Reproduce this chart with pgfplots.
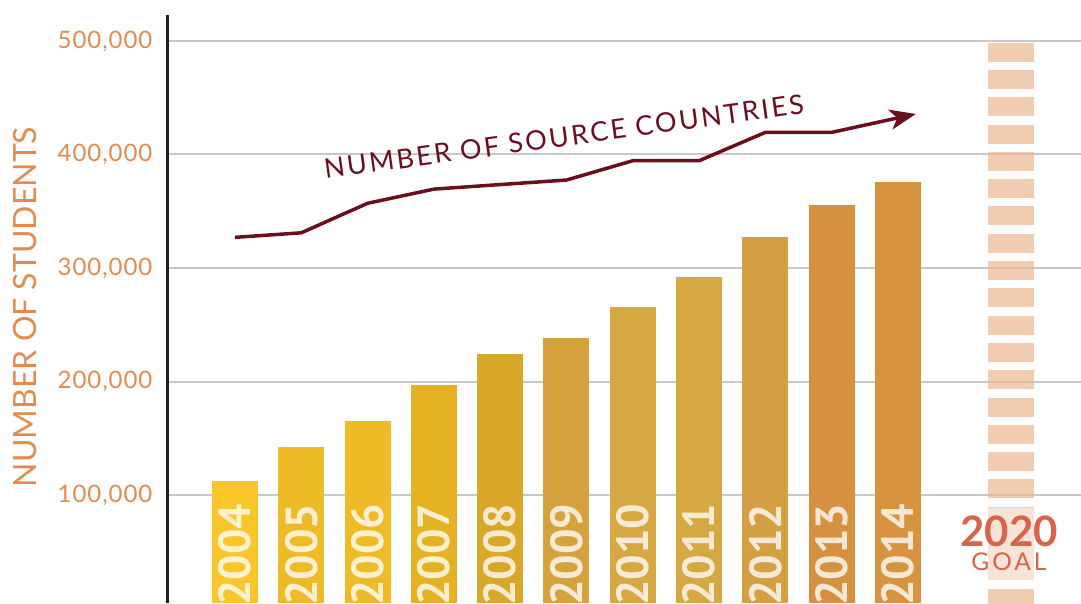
\documentclass[border=0pt]{standalone}
\usepackage{pgfplots}
\pgfplotsset{compat=1.18}
\usepackage{fontspec}
\setmainfont{Lato}
\newfontfamily\latofont{Lato}
\newfontfamily\tickfont{Lato}[LetterSpace=4]
\newfontfamily\linefont{Lato}[LetterSpace=9]
\newfontfamily\goalfont{Lato}[LetterSpace=12]
\newfontfamily\yearfont{PT Sans}
\usetikzlibrary{arrows.meta}
\definecolor{c04}{HTML}{F9C72B}
\definecolor{c05}{HTML}{EDBA28}
\definecolor{c06}{HTML}{EEBB27}
\definecolor{c07}{HTML}{E4B223}
\definecolor{c08}{HTML}{DAA828}
\definecolor{c09}{HTML}{D6A23E}
\definecolor{c10}{HTML}{D7A841}
\definecolor{c11}{HTML}{D6A841}
\definecolor{c12}{HTML}{D5A043}
\definecolor{c13}{HTML}{D69140}
\definecolor{c14}{HTML}{D79340}
\definecolor{goalc}{HTML}{ECB890}
\definecolor{goallight}{HTML}{F8E4D6}
\definecolor{orangec}{HTML}{E38B4F}
\definecolor{linec}{HTML}{6B0E1D}
\definecolor{redc}{HTML}{D8644C}
\definecolor{gridc}{HTML}{C8C8C8}
\definecolor{axisc}{HTML}{231F20}
\tikzset{yearlbl/.style={rotate=90, anchor=west, inner sep=0pt, text=white, text opacity=0.78, font=\yearfont\bfseries\fontsize{45}{45}\selectfont}}
\begin{document}
\begin{tikzpicture}
\begin{axis}[
  scale only axis, width=913pt, height=588pt,
  xmin=-1.01, xmax=12.76, ymin=4850, ymax=522900,
  axis x line=none, axis y line*=left,
  y axis line style={draw=axisc, line width=3pt},
  scaled y ticks=false,
  ytick={100000,200000,300000,400000,500000},
  yticklabels={{100,000},{200,000},{300,000},{400,000},{500,000}},
  major tick length=0pt,
  ymajorgrids, grid style={draw=gridc, line width=2pt},
  yticklabel style={font=\tickfont\fontsize{24}{24}\selectfont, text=orangec, anchor=base west, xshift=-110.5pt, yshift=-7.3pt, inner sep=0pt},
  clip=false,
]
% goal bar
\addplot[draw=goalc, draw opacity=0.7, line width=46pt, dash pattern=on 19pt off 8.3pt] coordinates {(11.7,498500) (11.7,0)};
\addplot[fill=goallight, draw=none] coordinates {(11.353,25110) (12.047,25110) (12.047,88546) (11.353,88546)} --cycle;
% bars
\addplot[ybar, bar width=0.694, bar shift=0pt, fill=c04, draw=none] coordinates {(0,112300)};
\addplot[ybar, bar width=0.694, bar shift=0pt, fill=c05, draw=none] coordinates {(1,142300)};
\addplot[ybar, bar width=0.694, bar shift=0pt, fill=c06, draw=none] coordinates {(2,165200)};
\addplot[ybar, bar width=0.694, bar shift=0pt, fill=c07, draw=none] coordinates {(3,196900)};
\addplot[ybar, bar width=0.694, bar shift=0pt, fill=c08, draw=none] coordinates {(4,224200)};
\addplot[ybar, bar width=0.694, bar shift=0pt, fill=c09, draw=none] coordinates {(5,238300)};
\addplot[ybar, bar width=0.694, bar shift=0pt, fill=c10, draw=none] coordinates {(6,265600)};
\addplot[ybar, bar width=0.694, bar shift=0pt, fill=c11, draw=none] coordinates {(7,292100)};
\addplot[ybar, bar width=0.694, bar shift=0pt, fill=c12, draw=none] coordinates {(8,327300)};
\addplot[ybar, bar width=0.694, bar shift=0pt, fill=c13, draw=none] coordinates {(9,355500)};
\addplot[ybar, bar width=0.694, bar shift=0pt, fill=c14, draw=none] coordinates {(10,375800)};
% source countries line
\addplot[draw=linec, line width=3.5pt, line join=round, -{Stealth[length=26pt,width=20pt,inset=7pt]}] coordinates {(0,327000)(1,331000)(2,357000)(3,369500)(4,373500)(5,377500)(6,394500)(7,394500)(8,419500)(9,419500)(10.27,435700)};
\node[rotate=7.8, inner sep=0pt, text=linec, font=\linefont\fontsize{27}{27}\selectfont] at (axis cs:4.96,415800) {NUMBER OF SOURCE COUNTRIES};
% year labels
\node[yearlbl] at (axis cs:0,2200) {2004};
\node[yearlbl] at (axis cs:1,2200) {2005};
\node[yearlbl] at (axis cs:2,2200) {2006};
\node[yearlbl] at (axis cs:3,2200) {2007};
\node[yearlbl] at (axis cs:4,2200) {2008};
\node[yearlbl] at (axis cs:5,2200) {2009};
\node[yearlbl] at (axis cs:6,2200) {2010};
\node[yearlbl] at (axis cs:7,2200) {2011};
\node[yearlbl] at (axis cs:8,2200) {2012};
\node[yearlbl] at (axis cs:9,2200) {2013};
\node[yearlbl] at (axis cs:10,2200) {2014};
\node[inner sep=0pt, text=redc, font=\latofont\bfseries\fontsize{42}{42}\selectfont] at (axis cs:11.674,67700) {2020};
\node[inner sep=0pt, text=redc, font=\goalfont\fontsize{24.5}{24.5}\selectfont] at (axis cs:11.674,40800) {GOAL};
% y label
\node[rotate=90, inner sep=0pt, text=orangec, font=\latofont\fontsize{32}{32}\selectfont] at (axis cs:-3.167,265600) {NUMBER OF STUDENTS};
\end{axis}
\pgfresetboundingbox
\path[use as bounding box] ([xshift=-168pt]current axis.south west) rectangle ([yshift=15pt]current axis.north east);
\end{tikzpicture}
\end{document}
